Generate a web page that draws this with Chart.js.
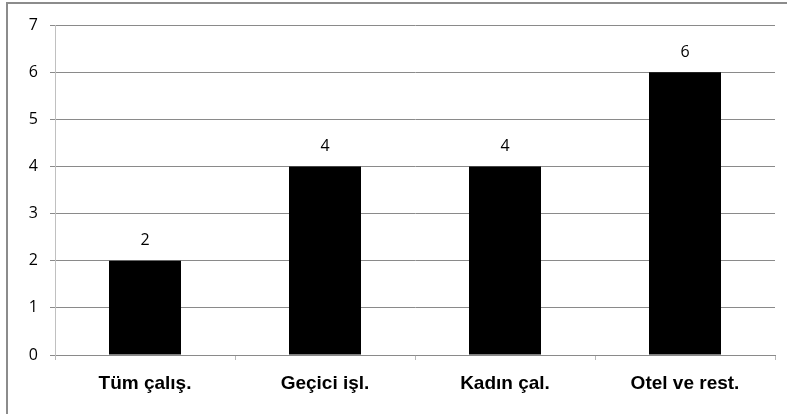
<!DOCTYPE html>
<html>
<head>
<meta charset="utf-8">
<script src="https://cdn.jsdelivr.net/npm/chart.js@4/dist/chart.umd.min.js"></script>
<style>
  html, body { margin: 0; padding: 0; background: #fff; overflow: hidden; }
  #frame {
    position: absolute; left: 6px; top: 2px; width: 800px; height: 430px;
    border: 2px solid #8c8c8c; box-sizing: border-box;
  }
  #wrap { position: absolute; left: 0; top: 0; width: 787px; height: 414px; }
</style>
</head>
<body>
<div id="frame"></div>
<div id="wrap"><canvas id="chart"></canvas></div>
<script>
const categories = ['Tüm çalış.', 'Geçici işl.', 'Kadın çal.', 'Otel ve rest.'];
const values = [2, 4, 4, 6];

// value labels above each bar
const barLabels = {
    id: 'barLabels',
    afterDatasetsDraw(chart) {
        const ctx = chart.ctx;
        const meta = chart.getDatasetMeta(0);
        ctx.save();
        ctx.font = '16px "Open Sans", sans-serif';
        ctx.fillStyle = '#000';
        ctx.textAlign = 'center';
        ctx.textBaseline = 'middle';
        meta.data.forEach((bar, i) => {
            ctx.fillText(String(values[i]), bar.x, bar.y - 20);
        });
        ctx.restore();
    }
};

const chartObj = document.getElementById('chart');
const chart = new Chart(chartObj, {
    type: 'bar',
    data: {
        labels: categories,
        datasets: [{
            data: values,
            backgroundColor: '#000',
            borderWidth: 0,
            barPercentage: 0.4,
            categoryPercentage: 1.0
        }]
    },
    options: {
        responsive: true,
        maintainAspectRatio: false,
        animation: false,
        layout: {
            padding: { left: 0, top: 25, right: 12, bottom: 0 }
        },
        plugins: {
            legend: { display: false },
            tooltip: { enabled: false }
        },
        scales: {
            x: {
                grid: {
                    display: true,
                    drawOnChartArea: false,
                    drawTicks: true,
                    tickLength: 5,
                    color: '#b8b8b8'
                },
                border: { color: '#8a8a8a' },
                ticks: {
                    color: '#000',
                    padding: 12,
                    font: { family: '"Liberation Sans", Arial, sans-serif', size: 19, weight: 'bold' }
                },
                afterFit: s => { s.height = 59; }
            },
            y: {
                min: 0,
                max: 7,
                grid: {
                    color: '#8a8a8a',
                    tickLength: 5,
                    drawTicks: true
                },
                border: { color: '#c0c0c0' },
                ticks: {
                    stepSize: 1,
                    color: '#000',
                    padding: 12,
                    font: { family: '"Open Sans", sans-serif', size: 16 }
                },
                afterFit: s => { s.width = 55; }
            }
        }
    },
    plugins: [barLabels]
});
</script>
</body>
</html>
